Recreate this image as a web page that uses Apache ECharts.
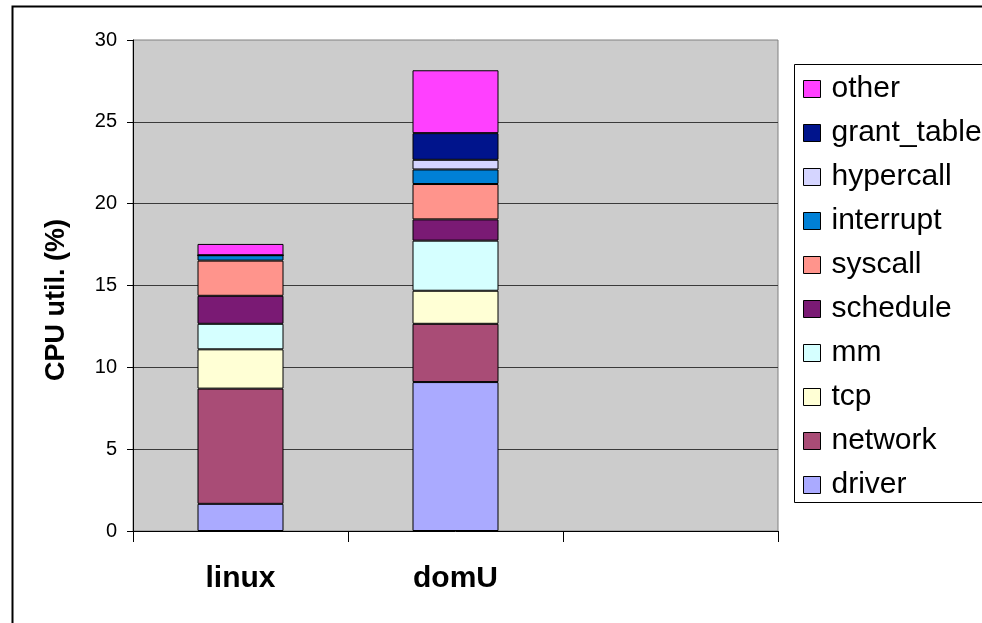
<!DOCTYPE html>
<html>
<head>
<meta charset="utf-8">
<title>CPU util.</title>
<script src="https://cdn.jsdelivr.net/npm/echarts@6/dist/echarts.min.js"></script>
<style>
  html, body { margin: 0; padding: 0; background: #fff; }
  #main { width: 982px; height: 623px; }
</style>
</head>
<body>
<div id="main"></div>
<script>
// categories (the third slot is empty in the original)
var categories = ["linux", "domU", ""];

// stacked parts, bottom to top
var driver = [1.66, 9.10];
var network = [7.04, 3.56];
var tcp = [2.40, 2.02];
var mm = [1.56, 3.06];
var schedule = [1.71, 1.30];
var syscall = [2.15, 2.16];
var interrupt = [0.33, 0.89];
var hypercall = [0, 0.59];
var grantTable = [0, 1.63];
var other = [0.69, 3.84];

var yTicks = [0, 5, 10, 15, 20, 25, 30];

var font = "Liberation Sans, Arial, sans-serif";

var parts = [
  { name: "driver", data: driver, color: "#AAAAFF" },
  { name: "network", data: network, color: "#A94C76" },
  { name: "tcp", data: tcp, color: "#FFFFD5" },
  { name: "mm", data: mm, color: "#D5FFFF" },
  { name: "schedule", data: schedule, color: "#7A1A74" },
  { name: "syscall", data: syscall, color: "#FF948C" },
  { name: "interrupt", data: interrupt, color: "#0080D6" },
  { name: "hypercall", data: hypercall, color: "#D5D5FF" },
  { name: "grant_table", data: grantTable, color: "#00148C" },
  { name: "other", data: other, color: "#FF40FF" }
];

var series = parts.map(function (p) {
  return {
    name: p.name,
    type: "bar",
    stack: "cpu",
    barWidth: 86,
    data: p.data,
    itemStyle: { color: p.color, borderColor: "#000", borderWidth: 1 }
  };
});

// legend lists the top of the stack first
var legendNames = parts.map(function (p) { return p.name; }).reverse();

var option = {
  backgroundColor: "#fff",
  animation: false,
  grid: {
    left: 133,
    right: 204,
    top: 40,
    bottom: 92,
    show: true,
    backgroundColor: "#CCCCCC",
    borderColor: "#808080",
    borderWidth: 1
  },
  legend: {
    orient: "vertical",
    left: 803,
    top: 74,
    padding: 0,
    itemWidth: 17,
    itemHeight: 17,
    itemGap: 14,
    icon: "rect",
    data: legendNames,
    itemStyle: { borderColor: "#000", borderWidth: 1 },
    textStyle: {
      fontFamily: font,
      fontSize: 30,
      lineHeight: 30,
      color: "#000",
      padding: [0, 0, 0, 6]
    }
  },
  xAxis: {
    type: "category",
    data: categories,
    axisLine: { show: true, lineStyle: { color: "#000", width: 1 } },
    axisTick: { show: true, interval: 0, length: 11, lineStyle: { color: "#000" } },
    axisLabel: {
      interval: 0,
      margin: 33,
      fontFamily: font,
      fontSize: 30,
      fontWeight: "bold",
      color: "#000"
    }
  },
  yAxis: {
    type: "value",
    min: yTicks[0],
    max: yTicks[yTicks.length - 1],
    interval: 5,
    axisLine: { show: true, lineStyle: { color: "#000", width: 1 } },
    axisTick: { show: true, length: 6, lineStyle: { color: "#000" } },
    axisLabel: { margin: 16, fontFamily: font, fontSize: 20, color: "#000" },
    splitLine: {
      show: true,
      showMinLine: false,
      showMaxLine: false,
      lineStyle: { color: "#3a3a3a", width: 1 }
    }
  },
  graphic: [
    // outer chart frame
    {
      type: "rect",
      silent: true,
      shape: { x: 12.5, y: 6.5, width: 1000, height: 700 },
      style: { fill: "none", stroke: "#000", lineWidth: 2 }
    },
    // legend box, runs off the right edge
    {
      type: "rect",
      silent: true,
      shape: { x: 794.5, y: 64.5, width: 300, height: 438 },
      style: { fill: "none", stroke: "#000", lineWidth: 1 }
    },
    // y axis title
    {
      type: "text",
      silent: true,
      x: 57,
      y: 300,
      rotation: Math.PI / 2,
      style: {
        text: "CPU util. (%)",
        fontFamily: font,
        fontSize: 27,
        fontWeight: "bold",
        fill: "#000",
        align: "center",
        verticalAlign: "middle"
      }
    }
  ],
  series: series
};

var myChart = echarts.init(document.getElementById("main"));
myChart.setOption(option);
</script>
</body>
</html>
